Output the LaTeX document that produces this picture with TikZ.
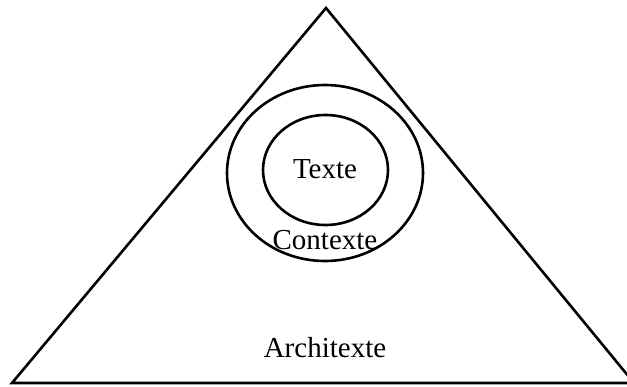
\documentclass[tikz,border=0pt]{standalone}
\usepackage{fontspec}
\setmainfont{Liberation Serif}

\begin{document}
\begin{tikzpicture}[x=1pt, y=-1pt, line width=2.6pt,
  label/.style={anchor=base, inner sep=0pt, font=\fontsize{29}{34}\selectfont}]
  % Frame
  \useasboundingbox (0,0) rectangle (627,386);
  \clip (0,0) rectangle (627,386);

  % Triangle
  \coordinate (apex) at (326,8);
  \coordinate (left) at (12,383);
  \coordinate (right) at (634,383);
  \draw[line join=miter] (left) -- (apex) -- (right) -- cycle;

  % Circles
  \draw (325,173) ellipse [x radius=98, y radius=88];
  \draw (325.5,170) ellipse [x radius=62.5, y radius=55];

  % Labels
  \node[label] (texte) at (325,178) {Texte};
  \node[label] (contexte) at (325,249) {Contexte};
  \node[label] (architexte) at (325,357) {Architexte};
\end{tikzpicture}
\end{document}
